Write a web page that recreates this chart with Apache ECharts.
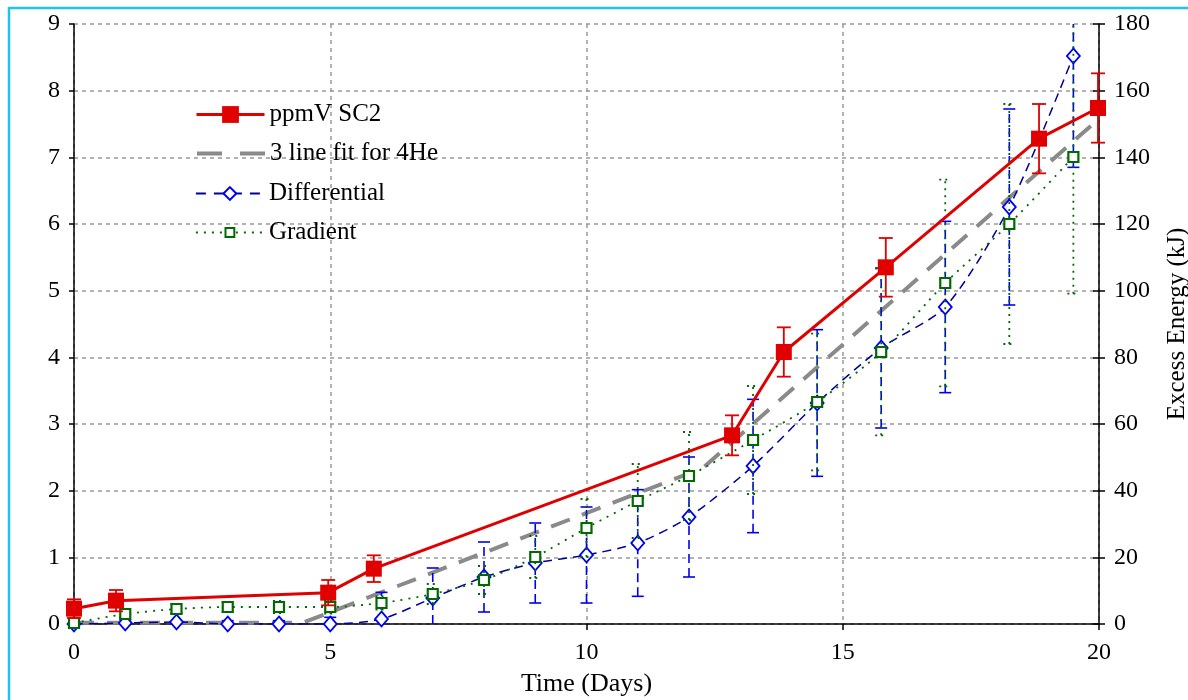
<!DOCTYPE html>
<html>
<head>
<meta charset="utf-8">
<script src="https://cdn.jsdelivr.net/npm/echarts@6/dist/echarts.min.js"></script>
<style>
  html, body { margin: 0; padding: 0; background: #fff; }
  #chart { width: 1188px; height: 700px; }
</style>
</head>
<body>
<div id="chart"></div>
<script>
// ppmV SC2 measurements (left axis, ppmV)
const scDays = [0, 0.82, 4.96, 5.85, 12.84, 13.85, 15.84, 18.83, 19.98];
const scPpm  = [0.23, 0.35, 0.47, 0.83, 2.83, 4.08, 5.35, 7.28, 7.74];
const scErr  = [0.14, 0.16, 0.19, 0.20, 0.30, 0.37, 0.44, 0.52, 0.52];

// Three-segment fit for 4He (left axis, ppmV)
const fitDays = [0, 4.47, 12.27, 20];
const fitPpm  = [0.02, 0.02, 2.34, 7.58];

// Excess energy from the calorimeters (right axis, kJ)
const calDays     = [0, 1, 2, 3, 4, 5, 6, 7, 8, 9, 10, 11, 12, 13.25, 14.5, 15.75, 17, 18.25, 19.5];
const diffKJ      = [0, 0.3, 0.6, 0, 0, 0, 1.5, 7.8, 14.1, 18.3, 20.7, 24.3, 32.1, 47.4, 66.3, 82.8, 95.1, 125.1, 170.4];
const diffErr     = [0, 1, 2.7, 1, 1, 2, 8, 9, 10.5, 12, 14.4, 16, 18, 20, 22, 24, 25.7, 29.4, 33.4];
const gradKJ      = [0.3, 3.0, 4.5, 5.1, 5.1, 5.1, 6.3, 9.0, 13.2, 20.1, 28.8, 36.9, 44.4, 55.2, 66.6, 81.6, 102.3, 120.0, 140.1];
const gradErr     = [0, 1, 1.5, 1.5, 1.8, 2, 2, 3, 4.2, 6.3, 8.7, 11.1, 13.2, 16.2, 20.5, 25, 31, 36, 41];

// Axis ranges and tick spacing
const xRange   = [0, 20, 5];
const ppmRange = [0, 9, 1];
const kjRange  = [0, 180, 20];

const FONT = "'Liberation Serif', 'Times New Roman', serif";
const RED = '#E00000';
const GRAY = '#8A8A8A';
const NAVY = '#00009A';
const BLUE = '#0000F0';
const GREEN = '#006A00';

const pairs = (xs, ys) => xs.map((x, i) => [x, ys[i]]);

// Vertical error bars drawn as a custom series; ends are kept inside the plot area
function errorBars(xs, ys, errs, yAxisIndex, opts) {
  const data = xs.map((x, i) => [x, ys[i] - errs[i], ys[i] + errs[i], errs[i]]);
  return {
    type: 'custom',
    yAxisIndex: yAxisIndex,
    z: opts.z,
    silent: true,
    data: data,
    encode: { x: 0, y: [1, 2] },
    renderItem: function (params, api) {
      if (api.value(3) <= 0) return null;
      const cs = params.coordSys;
      const x = api.value(0);
      const lo = api.coord([x, api.value(1)]);
      const hi = api.coord([x, api.value(2)]);
      const top = cs.y, bottom = cs.y + cs.height;
      const yHi = Math.max(hi[1], top);
      const yLo = Math.min(lo[1], bottom);
      const px = lo[0];
      const hw = opts.cap;
      const stem = { stroke: opts.color, lineWidth: opts.width, lineDash: opts.stemDash || null };
      const capStyle = { stroke: opts.color, lineWidth: opts.width, lineDash: opts.capDash || null };
      const children = [
        { type: 'line', shape: { x1: px, y1: yLo, x2: px, y2: yHi }, style: stem }
      ];
      if (hi[1] >= top) children.push({ type: 'line', shape: { x1: px - hw, y1: hi[1], x2: px + hw, y2: hi[1] }, style: capStyle });
      if (lo[1] <= bottom) children.push({ type: 'line', shape: { x1: px - hw, y1: lo[1], x2: px + hw, y2: lo[1] }, style: capStyle });
      return { type: 'group', children: children };
    }
  };
}

// One legend block per entry so each marker keeps its own size
const legendText = { color: '#000', fontFamily: FONT, fontSize: 25, lineHeight: 25 };
function legendEntry(name, top, itemHeight, extra) {
  return {
    orient: 'vertical',
    left: 190,
    top: top,
    itemWidth: 68,
    itemHeight: itemHeight,
    textStyle: legendText,
    selectedMode: false,
    data: [Object.assign({ name: name }, extra || {})]
  };
}

const chart = echarts.init(document.getElementById('chart'), null, { renderer: 'canvas' });

const tickLabel = { color: '#000', fontFamily: FONT, fontSize: 24 };
const gridLine = { show: true, lineStyle: { color: '#999', width: 1.5, type: [4, 4] } };
const blackAxis = { show: true, lineStyle: { color: '#000', width: 1.5 } };

chart.setOption({
  animation: false,
  backgroundColor: '#fff',
  textStyle: { fontFamily: FONT },
  grid: { left: 74, right: 89, top: 24, bottom: 76, containLabel: false, outerBoundsMode: 'none' },
  legend: [
    legendEntry('ppmV SC2', 97, 21, { lineStyle: { width: 3 } }),
    legendEntry('3 line fit for 4He', 136, 16, { lineStyle: { width: 4, type: [25, 18] }, itemStyle: { opacity: 0 } }),
    legendEntry('Differential', 176, 16, { lineStyle: { width: 1.8, type: [10, 8] } }),
    legendEntry('Gradient', 215, 11, { lineStyle: { width: 1.8, type: [2, 6] } })
  ],
  xAxis: {
    type: 'value',
    min: xRange[0], max: xRange[1], interval: xRange[2],
    name: 'Time (Days)',
    nameLocation: 'middle',
    nameGap: 47,
    nameTextStyle: { color: '#000', fontFamily: FONT, fontSize: 26 },
    axisLine: blackAxis,
    axisTick: { show: true, inside: false, length: 6, lineStyle: { color: '#000', width: 1.5 } },
    axisLabel: Object.assign({ margin: 17 }, tickLabel),
    splitLine: gridLine
  },
  yAxis: [
    {
      type: 'value',
      position: 'left',
      min: ppmRange[0], max: ppmRange[1], interval: ppmRange[2],
      axisLine: blackAxis,
      axisTick: { show: true, inside: false, length: 5, lineStyle: { color: '#000', width: 1.5 } },
      axisLabel: Object.assign({ margin: 14 }, tickLabel),
      splitLine: gridLine
    },
    {
      type: 'value',
      position: 'right',
      min: kjRange[0], max: kjRange[1], interval: kjRange[2],
      name: 'Excess Energy (kJ)',
      nameLocation: 'middle',
      nameRotate: 90,
      nameGap: 66,
      nameTextStyle: { color: '#000', fontFamily: FONT, fontSize: 25 },
      axisLine: blackAxis,
      axisTick: { show: true, inside: false, length: 6, lineStyle: { color: '#000', width: 1.5 } },
      axisLabel: Object.assign({ margin: 15 }, tickLabel),
      splitLine: { show: false }
    },
    {
      // inward half of the crossing ticks on the energy axis
      type: 'value',
      position: 'right',
      min: kjRange[0], max: kjRange[1], interval: kjRange[2],
      axisLine: { show: false },
      axisTick: { show: true, inside: true, length: 6, lineStyle: { color: '#000', width: 1.5 } },
      axisLabel: { show: false },
      splitLine: { show: false }
    }
  ],
  series: [
    {
      name: '3 line fit for 4He',
      type: 'line',
      yAxisIndex: 0,
      z: 2,
      data: pairs(fitDays, fitPpm),
      showSymbol: false,
      symbol: 'none',
      lineStyle: { color: GRAY, width: 4, type: [20, 13] },
      itemStyle: { color: GRAY }
    },
    errorBars(calDays, diffKJ, diffErr, 1, { z: 3, color: BLUE, width: 1.6, cap: 6, stemDash: [9, 5] }),
    {
      name: 'Differential',
      type: 'line',
      yAxisIndex: 1,
      z: 3,
      data: pairs(calDays, diffKJ),
      smooth: 0.25,
      symbol: 'diamond',
      symbolSize: [13, 15],
      lineStyle: { color: NAVY, width: 1.5, type: [9, 6] },
      itemStyle: { color: '#fff', borderColor: BLUE, borderWidth: 1.8 }
    },
    errorBars(calDays, gradKJ, gradErr, 1, { z: 4, color: GREEN, width: 1.8, cap: 6, stemDash: [2, 5], capDash: [2, 4] }),
    {
      name: 'Gradient',
      type: 'line',
      yAxisIndex: 1,
      z: 4,
      data: pairs(calDays, gradKJ),
      smooth: 0.25,
      symbol: 'rect',
      symbolSize: 10,
      lineStyle: { color: GREEN, width: 1.8, type: [2, 6] },
      itemStyle: { color: '#fff', borderColor: GREEN, borderWidth: 2.2 }
    },
    errorBars(scDays, scPpm, scErr, 0, { z: 5, color: RED, width: 1.8, cap: 7 }),
    {
      name: 'ppmV SC2',
      type: 'line',
      yAxisIndex: 0,
      z: 6,
      data: pairs(scDays, scPpm),
      symbol: 'rect',
      symbolSize: 16,
      lineStyle: { color: RED, width: 3 },
      itemStyle: { color: RED }
    }
  ],
  graphic: [
    { type: 'line', shape: { x1: 9, y1: 7, x2: 9, y2: 700 }, style: { stroke: '#1EC4EE', lineWidth: 2.5 } },
    { type: 'line', shape: { x1: 9, y1: 8, x2: 1188, y2: 8 }, style: { stroke: '#1EC4EE', lineWidth: 2.5 } }
  ]
});
</script>
</body>
</html>
